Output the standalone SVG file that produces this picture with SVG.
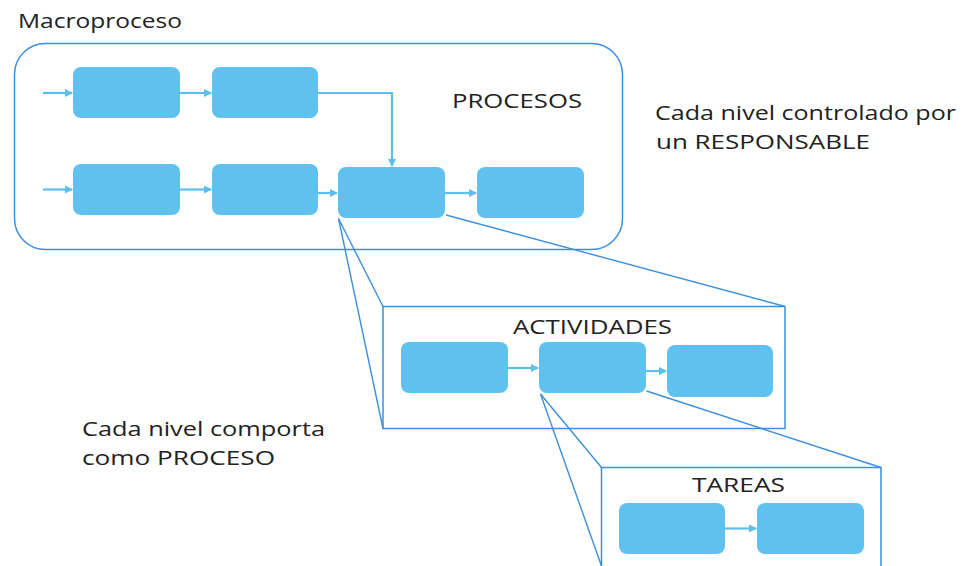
<svg xmlns="http://www.w3.org/2000/svg" width="962" height="566" viewBox="0 0 962 566">
<defs>
<marker id="ah" markerWidth="8" markerHeight="8" refX="7" refY="4" orient="auto" markerUnits="userSpaceOnUse">
<path d="M0,0 L8,4 L0,8 Z" fill="#5BBEEC"/>
</marker>
<style>
.box{fill:#61C1EE;}
.frame{fill:none;stroke:#3C8FDA;stroke-width:1.5;}
.zl{fill:none;stroke:#3C8FDA;stroke-width:1.4;}
.arr{fill:none;stroke:#5BBEEC;stroke-width:2.2;marker-end:url(#ah);}
.t{font-family:"Open Sans","Liberation Sans",sans-serif;fill:#222222;font-size:20px;}
</style>
</defs>
<rect width="962" height="566" fill="#ffffff"/>

<g id="macroproceso-label"><text class="t" x="18" y="28" textLength="164" lengthAdjust="spacingAndGlyphs">Macroproceso</text></g>

<g id="procesos-frame">
<rect class="frame" x="14.5" y="43.5" width="608" height="206" rx="31" ry="31"/>
<text class="t" x="452" y="108" textLength="130" lengthAdjust="spacingAndGlyphs">PROCESOS</text>
</g>

<g id="p1"><rect class="box" x="73" y="67" width="107" height="51" rx="8"/></g>
<g id="p2"><rect class="box" x="212" y="67" width="106" height="51" rx="8"/></g>
<g id="p3"><rect class="box" x="73" y="164" width="107" height="51" rx="8"/></g>
<g id="p4"><rect class="box" x="212" y="164" width="106" height="51" rx="8"/></g>
<g id="p5"><rect class="box" x="338" y="167" width="107" height="51" rx="8"/></g>
<g id="p6"><rect class="box" x="477" y="167" width="107" height="51" rx="8"/></g>

<g id="responsable-note">
<text class="t" x="655" y="120" textLength="301" lengthAdjust="spacingAndGlyphs">Cada nivel controlado por</text>
<text class="t" x="656" y="149" textLength="214" lengthAdjust="spacingAndGlyphs">un RESPONSABLE</text>
</g>

<g id="actividades-frame">
<rect class="frame" x="383" y="306.5" width="402" height="122"/>
<text class="t" x="513" y="334" textLength="159" lengthAdjust="spacingAndGlyphs">ACTIVIDADES</text>
</g>
<g id="a1"><rect class="box" x="401" y="342" width="107" height="51" rx="8"/></g>
<g id="a2"><rect class="box" x="539" y="342" width="107" height="51" rx="8"/></g>
<g id="a3"><rect class="box" x="667" y="345" width="106" height="52" rx="8"/></g>

<g id="proceso-note">
<text class="t" x="82" y="436" textLength="243" lengthAdjust="spacingAndGlyphs">Cada nivel comporta</text>
<text class="t" x="82" y="465" textLength="193" lengthAdjust="spacingAndGlyphs">como PROCESO</text>
</g>

<g id="tareas-frame">
<path class="frame" d="M601.5,572 V467.5 H881 V572"/>
<text class="t" x="692" y="492" textLength="93" lengthAdjust="spacingAndGlyphs">TAREAS</text>
</g>
<g id="t1"><rect class="box" x="619" y="503" width="106" height="51" rx="8"/></g>
<g id="t2"><rect class="box" x="757" y="503" width="107" height="51" rx="8"/></g>

<g id="connectors">
<line class="arr" x1="43" y1="93" x2="72" y2="93"/>
<line class="arr" x1="180" y1="93" x2="211" y2="93"/>
<polyline class="arr" points="318,93 392,93 392,166"/>
<line class="arr" x1="43" y1="189.5" x2="72" y2="189.5"/>
<line class="arr" x1="180" y1="189.5" x2="211" y2="189.5"/>
<line class="arr" x1="318" y1="193" x2="337" y2="193"/>
<line class="arr" x1="445" y1="193" x2="476" y2="193"/>
<line class="arr" x1="508" y1="368" x2="538" y2="368"/>
<line class="arr" x1="646" y1="371" x2="666" y2="371"/>
<line class="arr" x1="725" y1="528.5" x2="756" y2="528.5"/>
<line class="zl" x1="338.5" y1="218.5" x2="383" y2="306.5"/>
<line class="zl" x1="338.5" y1="218.5" x2="383" y2="428.5"/>
<line class="zl" x1="446" y1="215" x2="785" y2="306.5"/>
<line class="zl" x1="540.5" y1="394" x2="601.5" y2="467.5"/>
<line class="zl" x1="540.5" y1="394" x2="601.5" y2="566"/>
<line class="zl" x1="646.5" y1="391" x2="881" y2="467.5"/>
</g>
</svg>
